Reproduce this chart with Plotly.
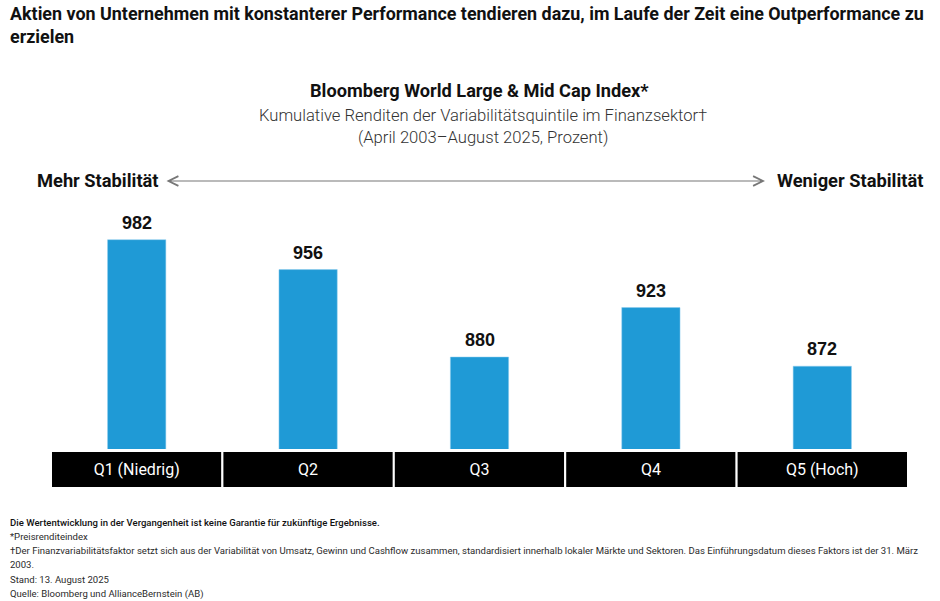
import plotly.graph_objects as go

# ---- data ------------------------------------------------------------------
quintiles = ["Q1 (Niedrig)", "Q2", "Q3", "Q4", "Q5 (Hoch)"]
returns = [982, 956, 880, 923, 872]
label_band = [1, 1, 1, 1, 1]

title = ("Aktien von Unternehmen mit konstanterer Performance tendieren dazu, "
         "im Laufe der Zeit eine Outperformance zu<br>erzielen")
chart_title = "Bloomberg World Large & Mid Cap Index*"
chart_sub = ("Kumulative Renditen der Variabilitätsquintile im Finanzsektor†"
             "<br>(April 2003–August 2025, Prozent)")
left_label = "Mehr Stabilität"
right_label = "Weniger Stabilität"
footnotes = [
    "Die Wertentwicklung in der Vergangenheit ist keine Garantie für zukünftige Ergebnisse.",
    "*Preisrenditeindex",
    "†Der Finanzvariabilitätsfaktor setzt sich aus der Variabilität von Umsatz, Gewinn und "
    "Cashflow zusammen, standardisiert innerhalb lokaler Märkte und Sektoren. Das "
    "Einführungsdatum dieses Faktors ist der 31. März",
    "2003.",
    "Stand: 13. August 2025",
    "Quelle: Bloomberg und AllianceBernstein (AB)",
]

BLUE = "#1f9ad6"
SANS = "Roboto, Liberation Sans, Arial, sans-serif"
ARIAL = "Liberation Sans, Arial, sans-serif"

# plot area in pixels (940 x 601 canvas)
L, R, T, B = 51, 908, 200, 488
W, H = R - L, B - T


def px(x):
    return (x - L) / W


def py(y):
    return (B - y) / H


fig = go.Figure()

fig.add_trace(go.Bar(
    x=quintiles,
    y=returns,
    width=0.34,
    marker=dict(color=BLUE, line=dict(color="#8fcdef", width=0.5)),
    hoverinfo="x+y",
    showlegend=False,
))

# black category band under the bars
fig.add_trace(go.Bar(
    x=quintiles,
    y=label_band,
    yaxis="y2",
    width=1,
    marker=dict(color="#000000", line=dict(color="#ffffff", width=2)),
    text=quintiles,
    textposition="inside",
    insidetextanchor="middle",
    textfont=dict(family=SANS, size=16, color="#ffffff"),
    hoverinfo="skip",
    showlegend=False,
))

ann = [
    dict(x=px(8), y=py(1), text=f"<b>{title}</b>", xanchor="left", yanchor="top",
         align="left", font=dict(family=SANS, size=17.9, color="#111111")),
    dict(x=px(480), y=py(91), text=f"<b>{chart_title}</b>",
         font=dict(family=SANS, size=18.2, color="#111111")),
    dict(x=px(483), y=py(126.5), text=chart_sub,
         font=dict(family=SANS, size=16.6, color="#333333", weight=300)),
    dict(x=px(35), y=py(181), text=f"<b>{left_label}</b>", xanchor="left",
         font=dict(family=SANS, size=18.3, color="#111111")),
    dict(x=px(925), y=py(181), text=f"<b>{right_label}</b>", xanchor="right",
         font=dict(family=SANS, size=18.3, color="#111111")),
    # double-headed arrow
    dict(x=px(765), y=py(181), text="", showarrow=True, axref="pixel", ayref="pixel",
         ax=-600, ay=0, arrowside="end+start", arrowhead=5, arrowsize=1.6,
         arrowwidth=1.2, arrowcolor="#777777", standoff=0, startstandoff=0),
]
for i, line in enumerate(footnotes):
    ann.append(dict(x=px(8), y=py(522 + 14.3 * i), xanchor="left", text=line,
                    font=dict(family=SANS, size=9.55,
                              color="#111111" if i == 0 else "#2a2a2a",
                              weight=500 if i == 0 else 400)))
for a in ann:
    a.setdefault("xref", "paper")
    a.setdefault("yref", "paper")
    a.setdefault("xanchor", "center")
    a.setdefault("yanchor", "middle")
    a.setdefault("showarrow", False)

# value labels above the bars
for q, v in zip(quintiles, returns):
    ann.append(dict(x=q, y=v, xref="x", yref="y", text=f"<b>{v}</b>",
                    showarrow=False, yanchor="bottom", yshift=5,
                    font=dict(family=ARIAL, size=18, color="#111111")))

fig.update_layout(
    width=940,
    height=601,
    margin=dict(l=L, r=940 - R, t=T, b=601 - B),
    paper_bgcolor="white",
    plot_bgcolor="white",
    barmode="overlay",
    xaxis=dict(range=[-0.5, 4.5], showticklabels=False, showgrid=False,
               zeroline=False, showline=False, ticks=""),
    yaxis=dict(domain=[py(449), 1], range=[800, 800 + (449 - T) / 1.15],
               visible=False, showgrid=False, zeroline=False),
    yaxis2=dict(domain=[0, py(451)], range=[0, 1], visible=False,
                showgrid=False, zeroline=False),
    annotations=ann,
)

fig.write_html("out.html", config={"displayModeBar": False},
               post_script="document.body.style.margin='0';")
